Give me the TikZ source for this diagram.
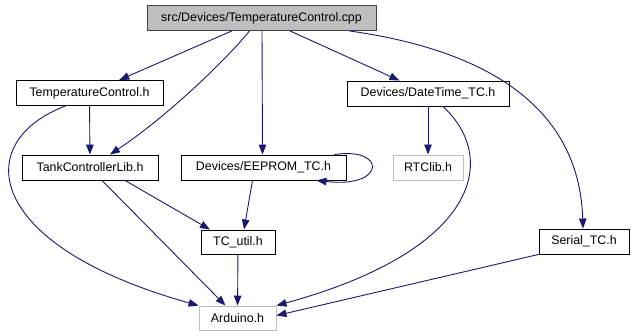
\documentclass[tikz,border=0pt]{standalone}
\usepackage{fontspec}
\setmainfont{Liberation Sans}
\usetikzlibrary{arrows.meta}
\definecolor{edgeblue}{HTML}{191970}
\definecolor{grey75}{HTML}{BFBFBF}
\begin{document}
\begin{tikzpicture}[x=1pt,y=-1pt,
  file/.style={draw=black,fill=white,line width=0.9pt,inner sep=0pt,
    minimum height=25pt,font=\fontsize{12.4}{14}\selectfont},
  main/.style={file,fill=grey75,draw=black!75},
  ext/.style={file,draw=grey75},
  dep/.style={draw=edgeblue,line width=0.9pt,
    -{Triangle[length=10pt,width=7.5pt,fill=edgeblue]}}]
\useasboundingbox (0,0) rectangle (634,336);
\fill[white] (0,0) rectangle (634,336);

% files
\node[main,minimum width=229pt] (top) at (261.5,18) {src/Devices/TemperatureControl.cpp};
\node[file,minimum width=147pt] (tch) at (89.5,93) {TemperatureControl.h};
\node[file,minimum width=136pt] (tcl) at (90,167.5) {TankControllerLib.h};
\node[file,minimum width=165pt] (eep) at (263.5,167.5) {Devices/EEPROM\_TC.h};
\node[file,minimum width=162pt] (dt) at (428,93.5) {Devices/DateTime\_TC.h};
\node[ext,minimum width=70pt] (rtc) at (428,167.5) {RTClib.h};
\node[file,minimum width=74pt,minimum height=24pt] (util) at (238,242) {TC\_util.h};
\node[ext,minimum width=77pt,minimum height=24pt] (ard) at (237.5,318) {Arduino.h};
\node[file,minimum width=90pt] (ser) at (584,241.5) {Serial\_TC.h};

% includes of the source file
\draw[dep] (top) -- (tch);
\draw[dep] ([xshift=-12pt]top.south) .. controls +(-20,25) and +(60,-40) .. ([xshift=20pt]tcl.north);
\draw[dep] ([xshift=0.5pt]top.south) -- ([xshift=-1pt]eep.north);
\draw[dep] (top) -- (dt);
\draw[dep] ([xshift=88pt]top.south) .. controls +(170,24) and +(-3,-99) .. ([xshift=-1pt]ser.north);

% includes of the headers
\draw[dep] (tch) -- (tcl);
\draw[dep] ([xshift=-24pt]tch.south) .. controls +(-95,36) and +(-215,-60) .. (ard.north west);
\draw[dep] ([xshift=35pt]tcl.south) -- ([xshift=-28pt]util.north);
\draw[dep] ([xshift=12pt]tcl.south) -- ([xshift=-12pt]ard.north);
\draw[dep] ([xshift=-12pt]eep.north east) .. controls +(52,-8) and +(70,8) .. ([xshift=-30pt]eep.south east);
\draw[dep] ([xshift=-11pt]eep.south) -- ([xshift=6pt]util.north);
\draw[dep] (dt) -- (rtc);
\draw[dep] ([xshift=15pt]dt.south) .. controls +(57,53) and +(201,-55) .. (ard.north east);
\draw[dep] (util) -- (ard);
\draw[dep] (ser.south west) -- ([yshift=-10pt]ard.north east);
\end{tikzpicture}
\end{document}
